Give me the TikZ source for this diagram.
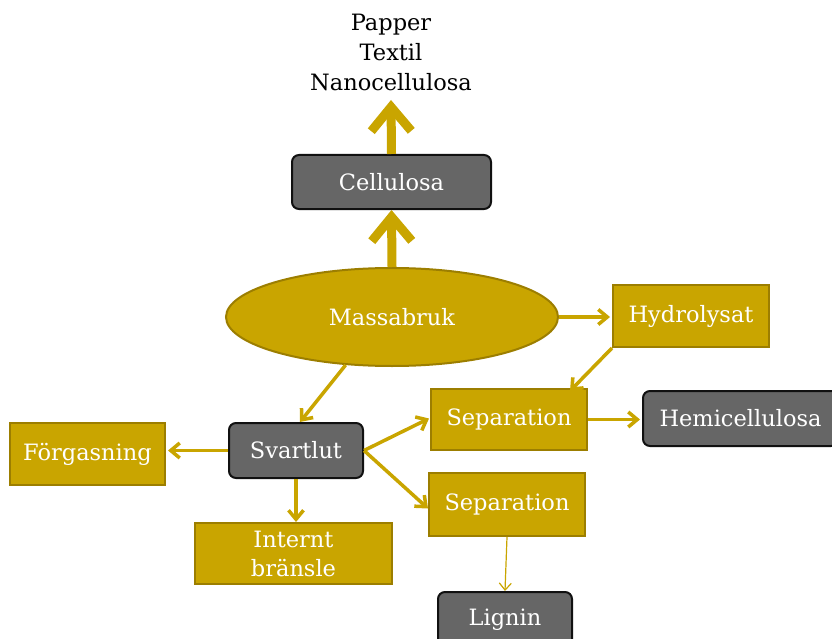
\documentclass[tikz,border=0pt]{standalone}
\usepackage{fontspec}
\setmainfont{DejaVu Serif}
\usetikzlibrary{arrows.meta,shapes.geometric,positioning}
\definecolor{gold}{HTML}{C9A500}
\definecolor{goldborder}{HTML}{9C7E00}
\definecolor{boxgray}{HTML}{666666}
\definecolor{edgeblack}{HTML}{111111}
\tikzset{
  lbl/.style={font=\fontsize{22.5}{29}\selectfont},
  goldbox/.style={rectangle, fill=gold, draw=goldborder, line width=2pt, text=white, lbl, align=center, inner sep=0pt},
  graybox/.style={rectangle, rounded corners=7pt, fill=boxgray, draw=edgeblack, line width=2pt, text=white, lbl, align=center, inner sep=0pt},
  goldell/.style={ellipse, fill=gold, draw=goldborder, line width=2pt, text=white, lbl, inner sep=0pt},
  flow/.style={draw=gold, line width=3.5pt, -{Straight Barb[length=9pt,width=15pt]}},
  bigflow/.style={draw=gold, line width=9pt, -{Straight Barb[length=24pt,width=40pt]}},
  thinflow/.style={draw=gold, line width=1.2pt, -{Straight Barb[length=7pt,width=12pt]}},
}
\begin{document}
\begin{tikzpicture}[x=1pt,y=-1pt]
\useasboundingbox (0,0) rectangle (832,639);
\clip (0,0) rectangle (832,639);
\node[font=\fontsize{22.5}{30}\selectfont, align=center, text=black, inner sep=0pt] (prod) at (391,52) {Papper\\Textil\\Nanocellulosa};
\coordinate (prodtip) at (391,100);
\node[graybox, minimum width=199pt, minimum height=54pt] (cell) at (391.5,182) {Cellulosa};
\node[goldell, minimum width=332pt, minimum height=98pt] (mass) at (392,317) {Massabruk};
\node[goldbox, minimum width=156pt, minimum height=62pt] (hyd) at (691,316) {Hydrolysat};
\node[goldbox, minimum width=156pt, minimum height=61pt] (sep1) at (509,419.5) {Separation};
\node[graybox, minimum width=195pt, minimum height=55pt] (hemi) at (740.5,418.5) {Hemicellulosa};
\node[graybox, minimum width=134pt, minimum height=55pt] (svart) at (296,450.5) {Svartlut};
\node[goldbox, minimum width=155pt, minimum height=62pt] (forg) at (87.5,454) {Förgasning};
\node[goldbox, minimum width=197pt, minimum height=61pt] (intern) at (293.5,553.5) {Internt\\bränsle};
\node[goldbox, minimum width=156pt, minimum height=63pt] (sep2) at (507,504.5) {Separation};
\node[graybox, minimum width=134pt, minimum height=56pt] (lignin) at (505,620) {Lignin};

\draw[bigflow] (cell.north) -- (prodtip);
\draw[bigflow] (mass.north) -- (cell.south);
\draw[flow] (mass.east) -- ([xshift=-2pt]mass.east -| hyd.west);
\draw[flow] (hyd.south west) -- ([xshift=61pt,yshift=-3pt]sep1.north);
\draw[flow] (mass.226) -- ([xshift=4pt]svart.north);
\draw[flow] (svart.west) -- ([xshift=2pt]svart.west -| forg.east);
\draw[flow] (svart.south) -- (svart.south |- intern.north);
\draw[flow] (svart.east) -- ([xshift=-1pt,yshift=1pt]sep1.west);
\draw[flow] (svart.east) -- ([yshift=-4pt]sep2.west);
\draw[flow] (sep1.east) -- ([xshift=-2pt]sep1.east -| hemi.west);
\draw[thinflow] (sep2.south) -- (lignin.north);
\end{tikzpicture}
\end{document}
